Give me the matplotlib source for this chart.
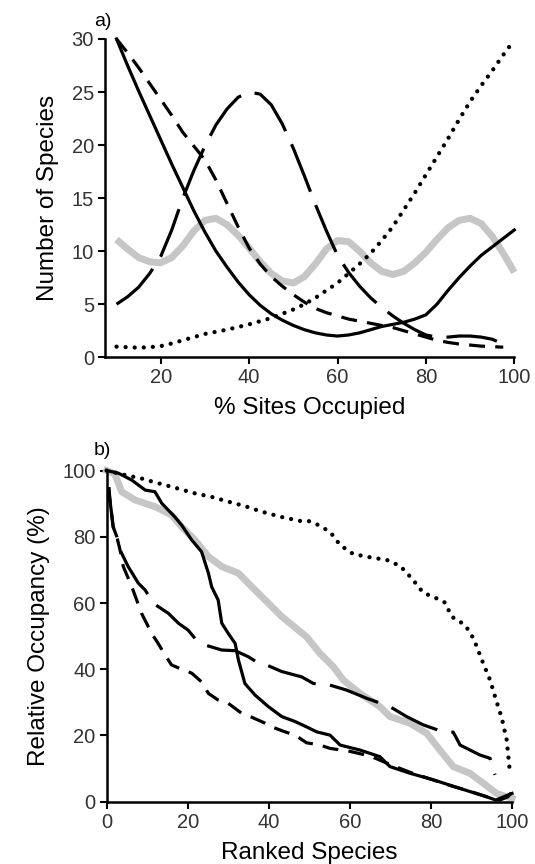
import numpy as np
import matplotlib as mpl
import matplotlib.pyplot as plt

mpl.rcParams['font.family'] = ['Liberation Sans', 'DejaVu Sans']

# ---- panel a: number of species vs % sites occupied ----
site_pct = [10, 12.5, 15, 17.5, 20, 22.5, 25, 27.5, 30, 32.5, 35, 37.5, 40, 42.5, 45, 47.5,
            50, 52.5, 55, 57.5, 60, 62.5, 65, 67.5, 70, 72.5, 75, 77.5, 80, 82.5, 85, 87.5,
            90, 92.5, 95, 97.5, 100]
a_grey = [11.1, 10.2, 9.4, 9.0, 8.9, 9.4, 10.5, 11.9, 12.9, 13.1, 12.5, 11.5, 10.3, 9.0, 7.9, 7.2,
          7.0, 7.6, 8.8, 10.2, 11.0, 10.9, 10.0, 8.9, 8.1, 7.8, 8.1, 8.9, 9.9, 11.1, 12.2, 12.9,
          13.1, 12.6, 11.4, 9.8, 8.0]
a_longdash = [5.0, 5.7, 6.6, 7.9, 9.5, 12.0, 15.0, 17.6, 19.9, 21.9, 23.4, 24.5, 25.0, 24.8, 23.8, 22.0,
              19.7, 17.1, 14.4, 11.9, 9.6, 8.0, 6.7, 5.6, 4.7, 3.9, 3.2, 2.6, 2.1, 1.9, 1.9, 2.0,
              2.0, 1.9, 1.7, 1.25, np.nan]
a_solid = [30, 27.5, 25.1, 22.8, 20.5, 18.2, 16.0, 13.8, 11.8, 10.0, 8.5, 7.1, 5.9, 4.9, 4.1, 3.5,
           3.0, 2.6, 2.3, 2.1, 2.0, 2.1, 2.3, 2.6, 2.9, 3.1, 3.3, 3.6, 4.0, 5.0, 6.3, 7.5,
           8.6, 9.6, 10.4, 11.2, 12.0]
a_dash = [30, 28.7, 27.3, 25.8, 24.3, 22.8, 21.2, 19.9, 18.6, 16.7, 14.5, 12.3, 10.3, 8.8, 7.6, 6.7,
          5.9, 5.2, 4.6, 4.2, 3.9, 3.6, 3.4, 3.2, 3.0, 2.8, 2.5, 2.2, 1.9, 1.6, 1.4, 1.25,
          1.15, 1.05, 1.0, 0.95, np.nan]
a_dot = [1.0, 0.95, 0.9, 0.95, 1.05, 1.3, 1.6, 1.9, 2.2, 2.4, 2.6, 2.85, 3.1, 3.4, 3.7, 4.1,
         4.5, 5.0, 5.6, 6.3, 7.0, 7.9, 8.8, 9.8, 11.0, 12.3, 13.9, 15.5, 17.2, 18.9, 20.6, 22.4,
         24.1, 25.6, 27.0, 28.5, 29.9]

# ---- panel b: relative occupancy vs ranked species ----
b_dot_x = [0, 2, 5, 8.6, 12, 16, 21.8, 26, 30, 34, 38.2, 43, 47.7, 49.7, 51.8, 55.1, 57.6, 60.8,
           65, 69.1, 72.4, 75.3, 78.1, 81.4, 83.5, 85.1, 88.4, 90.5, 92.9, 94.6, 96.2, 97.5, 98.7, 99.5]
b_dot_y = [100, 99.4, 98.5, 97.6, 96.4, 95.1, 93.1, 92.0, 90.6, 89.3, 87.6, 86.0, 84.8, 84.8, 83.8, 81.5,
           77.5, 74.8, 73.8, 73.0, 71.2, 67.4, 63.1, 61.4, 60.1, 55.9, 53.4, 49.3, 41.8, 36.7, 30.2,
           25.2, 18.6, 8.6]
b_grey_x = [0, 2, 3.7, 7, 11.9, 16, 18.5, 21.8, 25.1, 28.4, 32.5, 35.8, 39.1, 43.2, 47.3, 49.3, 52.6,
            55.9, 58.4, 62.5, 67.4, 69.9, 74.8, 79, 82.2, 85.5, 89.6, 92.9, 96.2, 98.7, 100]
b_grey_y = [100, 99, 93.6, 91.1, 89.1, 86.6, 83.0, 79.0, 74.0, 71.0, 69.0, 64.9, 60.9, 55.9, 51.8, 49.8,
            44.8, 40.8, 36.7, 32.7, 28.7, 25.7, 23.7, 20.6, 15.6, 10.6, 8.6, 5.6, 2.5, 1.5, 1.0]
b_solid_x = [0, 2.9, 6.2, 9.5, 11.9, 13.6, 16.8, 18.5, 21, 23.4, 25.1, 25.9, 27.5, 28.4, 30, 31.7, 32.5,
             34.1, 36.6, 39.9, 43.2, 46.5, 49.3, 51.8, 55.1, 57.6, 62.5, 67.4, 69.9, 74.8, 80.6, 87.2,
             93.7, 96, 98, 100]
b_solid_y = [100, 99.2, 97.1, 94.1, 93.6, 90.1, 86.0, 83.5, 79.0, 75.5, 69.0, 64.9, 60.9, 53.9, 50.8,
             47.8, 42.8, 35.7, 32.2, 28.7, 25.7, 24.2, 22.6, 21.1, 20.1, 17.1, 15.6, 13.6, 10.6, 8.6,
             6.6, 4.0, 1.5, 0.5, 1.5, 2.5]
b_dash_x = [0.5, 0.8, 1.6, 2.5, 3.3, 4.1, 6.2, 8.6, 11.1, 12.7, 14.4, 16.0, 18.5, 21.0, 23.4, 25.1, 27.5,
            30, 33.3, 35.8, 39.1, 40.7, 44, 46.5, 49.3, 52.6, 55.1, 60, 65, 70, 75, 80, 85, 90, 95,
            97, 99, 100]
b_dash_y = [95, 91.1, 83, 80, 76, 71, 64.9, 56.9, 50.8, 47.8, 44.3, 41.3, 40, 38.8, 36.2, 32.7, 30.7,
            29.7, 26.7, 25.5, 23.7, 22.6, 21.1, 20.1, 17.8, 17.1, 16.1, 15.2, 13.8, 11.2, 8.8, 6.8, 4.8,
            3.0, 1.0, 0.5, 1.5, 3.0]
b_long_x = [0.5, 0.8, 1.6, 2.5, 3.3, 5.3, 7.8, 9.5, 11.5, 15.2, 17.7, 20.1, 21.8, 24.3, 28.4, 31.7,
            34.9, 38.2, 39.8, 43.2, 48.1, 51, 55.1, 59.2, 64.2, 69.9, 74, 78.1, 83, 85.5, 87.2, 92.1,
            94.6, 95.8]
b_long_y = [95, 91.1, 83, 80, 76, 71, 66, 63.9, 59.9, 56.9, 53.9, 51.8, 49.3, 47.3, 45.8, 45.6, 43.8,
            41.3, 41.1, 39.3, 37.7, 35.7, 35.2, 33.7, 31.2, 28.7, 25.7, 23.2, 21.1, 21.0, 17.1, 14.1,
            13.1, 8.1]

grey = '#c6c6c6'
LW = 2.3
longdash = (0, (16, 4.5))
shortdash = (0, (5, 3.2))
dotted = (0, (0.01, 2.1))

fig = plt.figure(figsize=(5.35, 8.64), dpi=100)
axA = fig.add_axes([0.1963, 0.5865, 0.765, 0.3684])
axB = fig.add_axes([0.1994, 0.0721, 0.7576, 0.3833])


def style_axes(ax):
    for s in ['top', 'right']:
        ax.spines[s].set_visible(False)
    for s in ['left', 'bottom']:
        ax.spines[s].set_linewidth(1.8)
    ax.tick_params(direction='out', length=5, width=1.5, labelsize=14.5,
                   labelcolor='#333333', pad=3)


axA.plot(site_pct, a_grey, color=grey, lw=5, solid_capstyle='butt')
axA.plot(site_pct, a_longdash, color='k', lw=LW, ls=longdash)
axA.plot(site_pct, a_solid, color='k', lw=LW)
axA.plot(site_pct, a_dash, color='k', lw=LW, ls=shortdash)
axA.plot(site_pct, a_dot, color='k', lw=3.1, ls=dotted, dash_capstyle='round')
axA.set_xlim(7.4, 100)
axA.set_ylim(0, 30)
axA.set_xticks([20, 40, 60, 80, 100])
axA.set_yticks([0, 5, 10, 15, 20, 25, 30])
style_axes(axA)
axA.set_xlabel('% Sites Occupied', fontsize=17.5, labelpad=7)
axA.set_ylabel('Number of Species', fontsize=17.5, labelpad=9)

axB.plot(b_grey_x, b_grey_y, color=grey, lw=5)
axB.plot(b_long_x, b_long_y, color='k', lw=LW, ls=longdash)
axB.plot(b_dash_x, b_dash_y, color='k', lw=LW, ls=shortdash)
axB.plot(b_solid_x, b_solid_y, color='k', lw=LW)
axB.plot(b_dot_x, b_dot_y, color='k', lw=3.1, ls=dotted, dash_capstyle='round')
axB.set_xlim(0, 100)
axB.set_ylim(0, 100)
axB.set_xticks([0, 20, 40, 60, 80, 100])
axB.set_yticks([0, 20, 40, 60, 80, 100])
style_axes(axB)
axB.set_xlabel('Ranked Species', fontsize=17.5, labelpad=7)
axB.set_ylabel('Relative Occupancy (%)', fontsize=17.5, labelpad=9)

fig.text(94 / 535, 1 - 26 / 864, 'a)', fontsize=14)
fig.text(94 / 535, 1 - 455 / 864, 'b)', fontsize=14)

for ax in (axA, axB):
    for line in ax.lines:
        line.set_clip_on(False)

fig.savefig('out.png', dpi=100)
